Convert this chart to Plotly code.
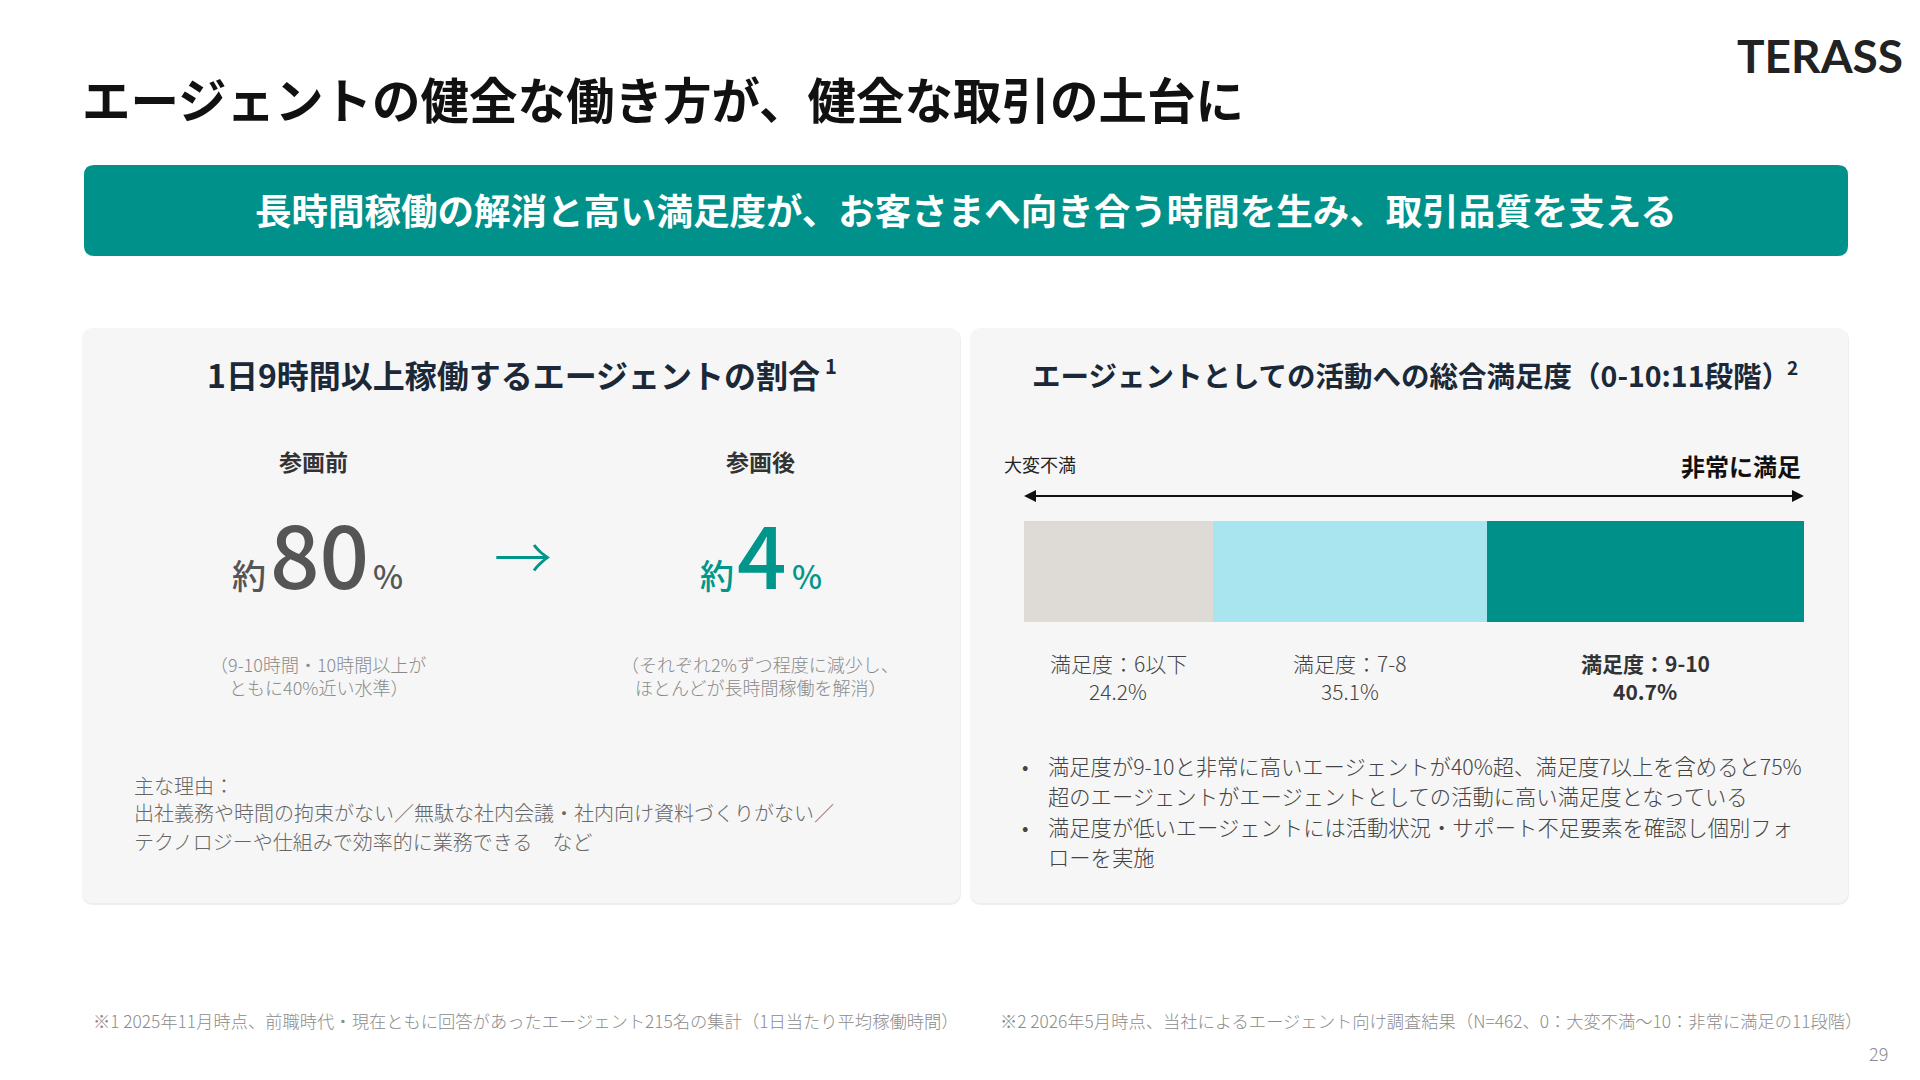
import plotly.graph_objects as go

# ---------------- data ----------------
sat_categories = ["満足度：6以下", "満足度：7-8", "満足度：9-10"]
sat_values = [24.2, 35.1, 40.7]
sat_colors = ["#DEDBD6", "#A9E5EF", "#00908A"]
sat_bold = [False, False, True]

phase_labels = ["参画前", "参画後"]
phase_values = [80, 4]
phase_notes = [["（9-10時間・10時間以上が", "ともに40%近い水準）"],
               ["（それぞれ2%ずつ程度に減少し、", "ほとんどが長時間稼働を解消）"]]

title_text = "エージェントの健全な働き方が、健全な取引の土台に"
banner_text = "長時間稼働の解消と高い満足度が、お客さまへ向き合う時間を生み、取引品質を支える"
left_title = "1日9時間以上稼働するエージェントの割合"
right_title = "エージェントとしての活動への総合満足度（0-10:11段階）"
title_marks = ["1", "2"]
reason_lines = ["主な理由：",
                "出社義務や時間の拘束がない／無駄な社内会議・社内向け資料づくりがない／",
                "テクノロジーや仕組みで効率的に業務できる　など"]
bullet_lines = [("•", "満足度が9-10と非常に高いエージェントが40%超、満足度7以上を含めると75%"),
                ("", "超のエージェントがエージェントとしての活動に高い満足度となっている"),
                ("•", "満足度が低いエージェントには活動状況・サポート不足要素を確認し個別フォ"),
                ("", "ローを実施")]
footnote_1 = "※1 2025年11月時点、前職時代・現在ともに回答があったエージェント215名の集計（1日当たり平均稼働時間）"
footnote_2 = "※2 2026年5月時点、当社によるエージェント向け調査結果（N=462、0：大変不満〜10：非常に満足の11段階）"
page_no = "29"

# ---------------- style / canvas ----------------
OFF = 8                      # page body margin
W, H = 1920 - 2 * OFF, 1080 - 2 * OFF
FONT = "Noto Sans CJK JP, Noto Sans, sans-serif"
TEAL = "#00928A"
DY = -1                      # vertical text correction


def px(X):
    return (X - OFF) / W


def py(Y):
    return (OFF + H - Y) / H


fig = go.Figure()

bar_x0, bar_x1, bar_y0, bar_y1 = 1024, 1804, 521, 622

for cat, val, col in zip(sat_categories, sat_values, sat_colors):
    fig.add_trace(go.Bar(
        x=[val], y=[0], orientation="h", name=cat,
        marker=dict(color=col, line=dict(width=0)),
        width=1, hoverinfo="skip", showlegend=False))

fig.update_layout(
    width=W, height=H, margin=dict(l=0, r=0, t=0, b=0),
    paper_bgcolor="white", plot_bgcolor="rgba(0,0,0,0)",
    barmode="stack", bargap=0,
    font=dict(family=FONT, color="#333"),
    xaxis=dict(range=[0, sum(sat_values)], domain=[px(bar_x0), px(bar_x1)],
               visible=False, fixedrange=True),
    yaxis=dict(range=[-0.5, 0.5], domain=[py(bar_y1), py(bar_y0)],
               visible=False, fixedrange=True),
)


def pt(X, Y):
    return f"{px(X):.6f},{py(Y):.6f}"


def rrect(x0, y0, x1, y1, r):
    return (f"M{pt(x0+r, y0)} L{pt(x1-r, y0)} Q{pt(x1, y0)} {pt(x1, y0+r)} "
            f"L{pt(x1, y1-r)} Q{pt(x1, y1)} {pt(x1-r, y1)} L{pt(x0+r, y1)} "
            f"Q{pt(x0, y1)} {pt(x0, y1-r)} L{pt(x0, y0+r)} Q{pt(x0, y0)} {pt(x0+r, y0)} Z")


def pshape(path, color):
    return dict(type="path", path=path, xref="paper", yref="paper",
                fillcolor=color, line=dict(width=0), layer="below")


shapes = []
for (x0, x1) in [(82, 960), (970, 1848)]:
    shapes.append(pshape(rrect(x0, 329, x1 + 1, 905, 12), "#EEEEEE"))
    shapes.append(pshape(rrect(x0, 328, x1, 903, 12), "#F6F6F6"))
shapes.append(pshape(rrect(84, 165, 1848, 256, 10), TEAL))

# double-headed scale arrow
ay_ = 496
shapes.append(dict(type="line", x0=px(bar_x0 + 8), x1=px(bar_x1 - 8), y0=py(ay_), y1=py(ay_),
                   xref="paper", yref="paper", line=dict(color="#111111", width=2)))
ah = dict(fillcolor="#111111", line=dict(width=0), xref="paper", yref="paper", type="path")
shapes.append(dict(path=f"M{pt(bar_x0, ay_)} L{pt(bar_x0+12, ay_-6)} L{pt(bar_x0+12, ay_+6)} Z", **ah))
shapes.append(dict(path=f"M{pt(bar_x1, ay_)} L{pt(bar_x1-12, ay_-6)} L{pt(bar_x1-12, ay_+6)} Z", **ah))
fig.update_layout(shapes=shapes)

ann = []


def txt(x, y, text, size, color="#333", xanchor="center", weight="normal",
        family=FONT, data_x=False, yanchor="middle"):
    ann.append(dict(x=x if data_x else px(x), y=py(y + DY),
                    xref="x" if data_x else "paper", yref="paper",
                    text=text, showarrow=False, xanchor=xanchor, yanchor=yanchor,
                    font=dict(family=family, size=size, color=color, weight=weight)))


# header
txt(80, 99, title_text, 48.5, "#111111", xanchor="left", weight="bold")
txt(1905, 56, "TERASS", 46, "#222222", xanchor="right", weight="bold",
    family="Lato, Noto Sans, sans-serif")
txt(966, 210, banner_text, 36.5, "white", weight="bold")

# left panel
txt(205, 375, left_title, 32, "#1B2838", xanchor="left", weight="bold")
txt(823, 366, title_marks[0], 20, "#1B2838", xanchor="left", weight="bold")

phase_x = [313, 760]
num_colors = ["#555555", "#00968B"]
# left edges of the pieces (約 / number / %) and common text baseline
piece_left = [(230, 268, 371), (698, 735, 790)]
BASE = 590
NUM_SIZE = 87


def baseline_txt(x, size, text, color, weight):
    # place a single-line text so that its baseline sits on BASE
    bottom = BASE + 0.288 * size + 1
    txt(x, bottom - DY, text, size, color, xanchor="left", weight=weight, yanchor="bottom")


for i, (lab, val) in enumerate(zip(phase_labels, phase_values)):
    txt(phase_x[i], 462, lab, 23, "#333333", weight="bold")
    l_yaku, l_num, l_pct = piece_left[i]
    baseline_txt(l_yaku, 34, "約", num_colors[i], 500)
    baseline_txt(l_num, NUM_SIZE, str(val), num_colors[i], 500)
    baseline_txt(l_pct, 32, "%", num_colors[i], 500)
    for k, line in enumerate(phase_notes[i]):
        txt(phase_x[i] + (5 if i == 0 else 0), 665 + 23 * k, line, 18, "#8A8A8A", weight=300)
txt(523, 556, "→", 58, "#00968B", weight=300)
reason_y = [786, 813, 842]
for ry, line in zip(reason_y, reason_lines):
    txt(132, ry, line, 20, "#666666", xanchor="left", weight=300)

# right panel
txt(1030, 375, right_title, 28.5, "#1B2838", xanchor="left", weight="bold")
txt(1785, 368, title_marks[1], 19, "#1B2838", xanchor="left", weight="bold")
txt(1002, 465, "大変不満", 18, "#222222", xanchor="left")
txt(1803, 466, "非常に満足", 24, "#111111", xanchor="right", weight="bold")

cum = 0
for cat, val, b in zip(sat_categories, sat_values, sat_bold):
    center = cum + val / 2
    cum += val
    w = "bold" if b else 300
    col = "#333333" if b else "#444444"
    txt(center, 664, cat, 21, col, weight=w, data_x=True)
    txt(center, 692, f"{val}%", 21, col, weight=w, data_x=True)

bullet_y = [766, 796, 827, 858]
for by, (bul, line) in zip(bullet_y, bullet_lines):
    if bul:
        txt(1020, by, bul, 19, "#444444", xanchor="left")
    txt(1046, by, line, 21.3, "#444444", xanchor="left", weight=300)

# footnotes
txt(91, 1021, footnote_1, 17.3, "#8C8C8C", xanchor="left", weight=300)
txt(998, 1021, footnote_2, 17.3, "#8C8C8C", xanchor="left", weight=300)
txt(1890, 1054, page_no, 18, "#8C8C8C", xanchor="right", weight=300)

fig.update_layout(annotations=ann)
fig.write_html("out.html", config={"displayModeBar": False})
